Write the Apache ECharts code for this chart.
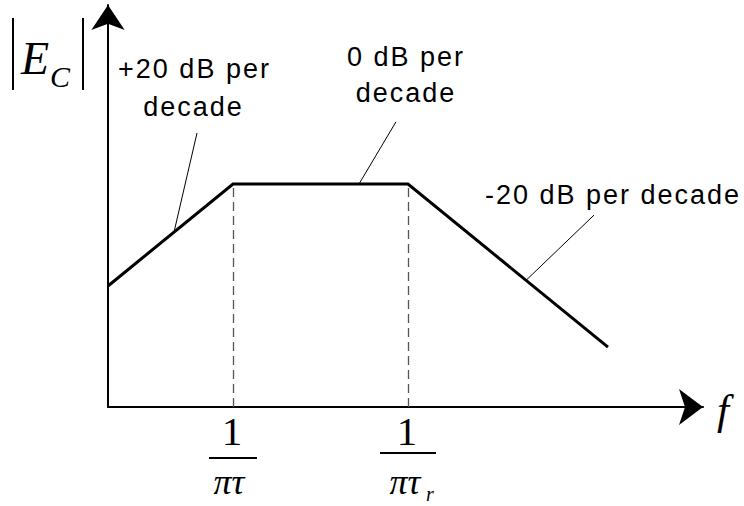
<!DOCTYPE html>
<html>
<head>
<meta charset="utf-8">
<script src="https://cdn.jsdelivr.net/npm/echarts@6/dist/echarts.min.js"></script>
<style>
  html, body { margin: 0; padding: 0; background: #fff; }
  #chart { width: 744px; height: 506px; }
  /* widely tracked sans-serif annotation text */
  #chart text[style*="Liberation Sans"] { letter-spacing: 2px; }
</style>
</head>
<body>
<div id="chart"></div>
<script>
// Asymptotic magnitude response of |E_C|: x is log10(f), y is gain in dB
const logFreq = [0, 1, 2.4, 4];
const gainDb = [-20, 0, 0, -32];

// Corner frequencies 1/(πτ) and 1/(πτ_r)
const cornerLogFreq = [1, 2.4];
const cornerNumerators = ['1', '1'];
const cornerDenominators = ['πτ', 'πτ'];
const cornerSubscripts = ['', 'r'];

// Slope annotations
const slopeLabels = ['+20 dB per\ndecade', '0 dB per\ndecade', '-20 dB per decade'];

const X_MIN = 0, X_MAX = 4.76;
const Y_MIN = -43.73, Y_MAX = 35.1;

const chart = echarts.init(document.getElementById('chart'), null, { renderer: 'svg' });

const curve = logFreq.map((x, i) => [x, gainDb[i]]);

const sansFont = '"Liberation Sans"';
const serifFont = '"Liberation Serif"';

chart.setOption({
  animation: false,
  backgroundColor: '#fff',
  grid: { left: 108, right: 41, top: 5, bottom: 99 },
  xAxis: {
    type: 'value', min: X_MIN, max: X_MAX,
    axisLine: {
      onZero: false,
      symbol: ['none', 'arrow'], symbolSize: [27, 24],
      lineStyle: { color: '#000', width: 2 }
    },
    axisTick: { show: false }, axisLabel: { show: false }, splitLine: { show: false }
  },
  yAxis: {
    type: 'value', min: Y_MIN, max: Y_MAX,
    axisLine: {
      onZero: false, show: true,
      symbol: ['none', 'arrow'], symbolSize: [25, 25],
      lineStyle: { color: '#000', width: 2 }
    },
    axisTick: { show: false }, axisLabel: { show: false }, splitLine: { show: false }
  },
  series: [
    {
      type: 'line',
      data: curve,
      symbol: 'none',
      lineStyle: { color: '#000', width: 3, join: 'miter' },
      z: 5,
      markLine: {
        silent: true,
        symbol: 'none',
        label: { show: false },
        lineStyle: { color: '#555', width: 1.3, type: [9, 5] },
        data: cornerLogFreq.map(x => [{ coord: [x, Y_MIN] }, { coord: [x, 0] }])
      }
    },
    {
      // leader lines from the curve to the slope annotations
      type: 'line',
      data: [],
      markLine: {
        silent: true,
        symbol: 'none',
        label: { show: false },
        lineStyle: { color: '#000', width: 1, type: 'solid' },
        data: [
          [{ coord: [0.528, -9.44] }, { coord: [0.712, 10] }],
          [{ coord: [2.008, 0] }, { coord: [2.304, 12.2] }],
          [{ coord: [3.344, -18.9] }, { coord: [3.888, -6.1] }]
        ]
      }
    }
  ]
});

// Text annotations and the corner-frequency fractions below the axis
const graphics = [];
function txt(text, x, y, font, align) {
  graphics.push({
    type: 'text', silent: true, z: 10,
    style: { text, x, y, font, fill: '#000', textAlign: align || 'center', textVerticalAlign: 'middle' }
  });
}

// |E_C| axis title
graphics.push({ type: 'line', silent: true, shape: { x1: 13, y1: 18, x2: 13, y2: 90 }, style: { stroke: '#000', lineWidth: 2 } });
graphics.push({ type: 'line', silent: true, shape: { x1: 83, y1: 18, x2: 83, y2: 90 }, style: { stroke: '#000', lineWidth: 2 } });
txt('E', 21, 58, 'italic 46px ' + serifFont, 'left');
txt('C', 50, 76, 'italic 30px ' + serifFont, 'left');

// frequency axis name
txt('f', 717, 409, 'italic 43px ' + serifFont, 'left');

// slope labels
const slopeLines = slopeLabels.map(s => s.split('\n'));
txt(slopeLines[0][0], 194.5, 69, '27px ' + sansFont);
txt(slopeLines[0][1], 193.5, 107, '27px ' + sansFont);
txt(slopeLines[1][0], 406, 57, '27px ' + sansFont);
txt(slopeLines[1][1], 406, 93, '27px ' + sansFont);
txt(slopeLines[2][0], 613, 195, '27px ' + sansFont);

// corner-frequency tick labels as fractions
const barWidth = [48, 56];
const barTop = [457, 452];
cornerLogFreq.forEach((v, i) => {
  const px = chart.convertToPixel({ xAxisIndex: 0 }, v);
  txt(cornerNumerators[i], px - 1, 431, '41px ' + serifFont);
  graphics.push({
    type: 'rect', silent: true,
    shape: { x: px - barWidth[i] / 2, y: barTop[i], width: barWidth[i], height: 2 },
    style: { fill: '#000' }
  });
  const hasSub = cornerSubscripts[i] !== '';
  txt(cornerDenominators[i], hasSub ? px - 3 : px - 4, 482, 'italic 36px ' + serifFont);
  if (hasSub) txt(cornerSubscripts[i], px + 18, 494, 'italic 20px ' + serifFont, 'left');
});

chart.setOption({ graphic: graphics });
</script>
</body>
</html>
